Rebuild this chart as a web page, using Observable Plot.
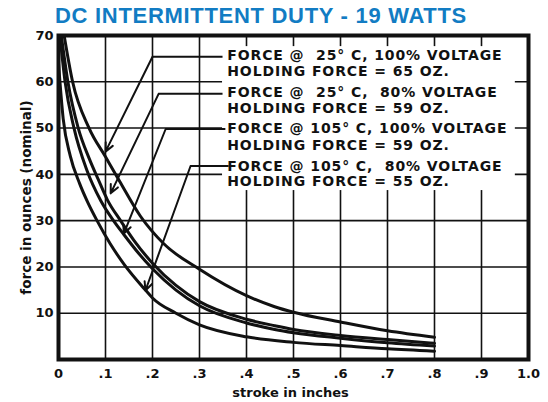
<!DOCTYPE html>
<html>
<head>
<meta charset="utf-8">
<script src="https://cdn.jsdelivr.net/npm/d3@7"></script>
<script src="https://cdn.jsdelivr.net/npm/@observablehq/plot@0.6"></script>
<style>
  html, body { margin: 0; padding: 0; background: white; }
  #wrap { position: relative; width: 548px; height: 402px; overflow: hidden; }
  #title { position: absolute; left: 55px; top: 5px; font-family: "Liberation Sans", Arial, sans-serif; font-weight: bold; font-size: 22px; line-height: 22px; color: #127cc3; letter-spacing: 0.7px; white-space: nowrap; }
</style>
</head>
<body>
<div id="wrap"><div id="title">DC INTERMITTENT DUTY - 19 WATTS</div></div>
<script>
// ---- data ----
const xTicks = [0, 0.1, 0.2, 0.3, 0.4, 0.5, 0.6, 0.7, 0.8, 0.9, 1.0];
const xTickLabels = ["0", ".1", ".2", ".3", ".4", ".5", ".6", ".7", ".8", ".9", "1.0"];
const yTicks = [10, 20, 30, 40, 50, 60, 70];
const xGrid = [0.1, 0.2, 0.3, 0.4, 0.5, 0.6, 0.7, 0.8, 0.9];
const yGrid = [10, 20, 30, 40, 50, 60];

const seriesNames = ["25C-100", "25C-80", "105C-100", "105C-80"];

const stroke25_100 = [0.012, 0.03, 0.065, 0.1, 0.13, 0.174, 0.224, 0.3, 0.4, 0.46, 0.5, 0.6, 0.7, 0.8];
const force25_100  = [70, 60, 50, 43.8, 38.5, 31, 25, 19.5, 13.8, 11.4, 10.2, 8.1, 6.2, 4.8];

const stroke25_80 = [0.006, 0.02, 0.042, 0.065, 0.085, 0.104, 0.132, 0.16, 0.2, 0.25, 0.3, 0.4, 0.46, 0.5, 0.6, 0.7, 0.8];
const force25_80  = [70, 60, 50, 43.5, 38.8, 34.5, 30, 25.8, 20.8, 16, 12.5, 8.7, 7.3, 6.5, 5.2, 4.3, 3.5];

const stroke105_100 = [0.003, 0.014, 0.033, 0.06, 0.09, 0.117, 0.139, 0.17, 0.2, 0.25, 0.3, 0.4, 0.46, 0.5, 0.6, 0.7, 0.8];
const force105_100  = [70, 60, 50, 41, 34.3, 30, 27, 23, 19.6, 15, 11.6, 7.9, 6.5, 5.8, 4.6, 3.6, 2.9];

const stroke105_80 = [0.0, 0.01, 0.025, 0.045, 0.062, 0.082, 0.11, 0.14, 0.185, 0.2, 0.25, 0.3, 0.4, 0.5, 0.6, 0.7, 0.8];
const force105_80  = [64, 52, 44, 38, 34, 30, 25, 20.5, 15, 13.3, 10, 7.5, 4.9, 3.7, 3.0, 2.3, 1.8];

const labelLine1 = ["FORCE @  25° C, 100% VOLTAGE", "FORCE @  25° C,  80% VOLTAGE", "FORCE @ 105° C, 100% VOLTAGE", "FORCE @ 105° C,  80% VOLTAGE"];
const labelLine2 = ["HOLDING FORCE = 65 OZ.", "HOLDING FORCE = 59 OZ.", "HOLDING FORCE = 59 OZ.", "HOLDING FORCE = 55 OZ."];

// annotation geometry in data units (stroke, force)
const leaderStartX = [0.349, 0.349, 0.355, 0.362];
const leaderY      = [65.4, 57.4, 49.8, 41.8];
const leaderBendX  = [0.2, 0.213, 0.228, 0.281];
const arrowTipX    = [0.100, 0.111, 0.139, 0.185];
const arrowTipY    = [44.9, 35.9, 27.2, 14.9];
const labelX = 0.359;
const labelY1 = [65.6, 57.6, 49.8, 41.8];
const labelY2 = [62.2, 54.2, 46.3, 38.4];
const labelBox = {x1: 0.349, x2: 0.972, y1: 36.5, y2: 67.6};

// ---- build tables ----
const curves = [
  [stroke25_100, force25_100],
  [stroke25_80, force25_80],
  [stroke105_100, force105_100],
  [stroke105_80, force105_80]
].flatMap(([xs, ys], i) => xs.map((x, j) => ({series: seriesNames[i], stroke: x, force: ys[j]})));

const keepSpaces = s => s.replace(/ {2}/g, " \u00a0");

const leaders = seriesNames.map((s, i) => ({
  x0: leaderStartX[i], y: leaderY[i], xb: leaderBendX[i], xt: arrowTipX[i], yt: arrowTipY[i],
  t1: keepSpaces(labelLine1[i]), t2: keepSpaces(labelLine2[i]), ly1: labelY1[i], ly2: labelY2[i]
}));
const labelTexts = new Set(leaders.flatMap(d => [d.t1, d.t2]));

const ink = "#111";

const chart = Plot.plot({
  width: 548,
  height: 402,
  marginLeft: 58,
  marginRight: 20,
  marginTop: 35,
  marginBottom: 43,
  style: {fontFamily: "DejaVu Sans", fontWeight: "bold", fontSize: "13px", color: ink, background: "white"},
  x: {domain: [0, 1], label: null},
  y: {domain: [0, 70], label: null},
  marks: [
    Plot.ruleX(xGrid, {stroke: ink, strokeWidth: 1.6}),
    Plot.ruleY(yGrid, {stroke: ink, strokeWidth: 1.6}),
    Plot.rect([labelBox], {x1: "x1", x2: "x2", y1: "y1", y2: "y2", fill: "white"}),
    Plot.line(curves, {x: "stroke", y: "force", z: "series", stroke: ink, strokeWidth: 3, curve: "monotone-x"}),
    Plot.link(leaders, {x1: "x0", y1: "y", x2: "xb", y2: "y", stroke: ink, strokeWidth: 2}),
    Plot.arrow(leaders, {x1: "xb", y1: "y", x2: "xt", y2: "yt", stroke: ink, strokeWidth: 2, headLength: 7, headAngle: 50}),
    Plot.text(leaders, {x: () => labelX, y: "ly1", text: "t1", textAnchor: "start", fontSize: 14, fontWeight: "bold", fill: ink}),
    Plot.text(leaders, {x: () => labelX, y: "ly2", text: "t2", textAnchor: "start", fontSize: 14, fontWeight: "bold", fill: ink}),
    Plot.frame({stroke: ink, strokeWidth: 4}),
    Plot.axisX({ticks: xTicks, tickFormat: (d, i) => xTickLabels[i], tickSize: 0, tickPadding: 9, fontSize: 13, fontWeight: "bold"}),
    Plot.axisY({ticks: yTicks, tickSize: 0, tickPadding: 5, fontSize: 13, fontWeight: "bold"}),
    Plot.text(["force in ounces (nominal)"], {frameAnchor: "left", textAnchor: "middle", lineAnchor: "middle", dx: -32, rotate: -90, fontSize: 13.5, fontWeight: "bold", fill: ink}),
    Plot.text(["stroke in inches"], {frameAnchor: "bottom", textAnchor: "middle", lineAnchor: "middle", dy: 33, dx: -3, fontSize: 13, fontWeight: "bold", fill: ink})
  ]
});

d3.select(chart).selectAll("text")
  .filter(function() { return labelTexts.has(this.textContent); })
  .style("letter-spacing", "0.9px");
document.getElementById("wrap").prepend(chart);
</script>
</body>
</html>
